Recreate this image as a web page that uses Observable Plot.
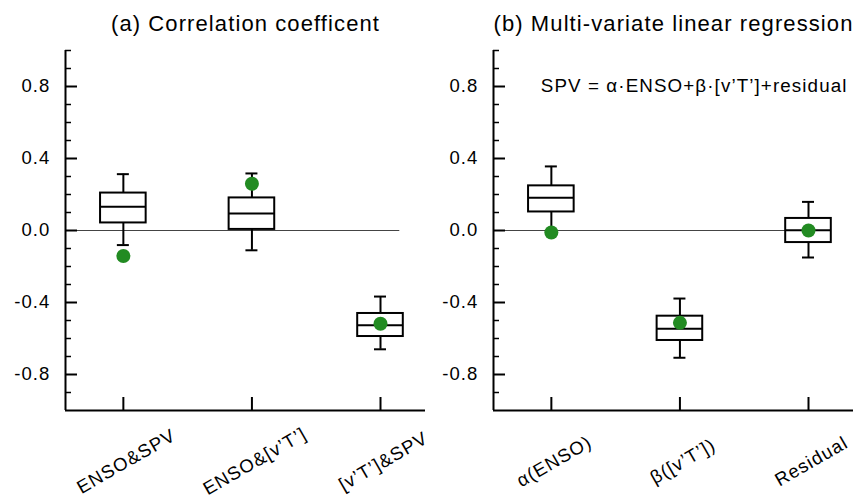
<!DOCTYPE html>
<html><head><meta charset="utf-8">
<script src="https://cdn.jsdelivr.net/npm/d3@7"></script>
<script src="https://cdn.jsdelivr.net/npm/@observablehq/plot@0.6"></script>
<style>
body{margin:0;background:#fff;}
#chart{display:flex;width:860px;height:500px;}
#chart svg{display:block;flex:none;}
</style></head><body><div id="chart"></div>
<script>
// ---- Panel (a): correlation coefficients ----
const titleA = "(a) Correlation coefficent";
const catsA = ["ENSO&SPV", "ENSO&[v’T’]", "[v’T’]&SPV"];
const loA  = [-0.081, -0.110, -0.660];
const q1A  = [ 0.042,  0.006, -0.589];
const medA = [ 0.132,  0.095, -0.527];
const q3A  = [ 0.208,  0.181, -0.461];
const hiA  = [ 0.313,  0.317, -0.367];
const obsA = [-0.142,  0.260, -0.518];

// ---- Panel (b): multi-variate linear regression ----
const titleB = "(b) Multi-variate linear regression";
const noteB = "SPV = α·ENSO+β·[v’T’]+residual";
const catsB = ["α(ENSO)", "β([v’T’])", "Residual"];
const loB  = [-0.005, -0.707, -0.150];
const q1B  = [ 0.103, -0.611, -0.067];
const medB = [ 0.182, -0.546,  0.002];
const q3B  = [ 0.248, -0.476,  0.067];
const hiB  = [ 0.356, -0.378,  0.159];
const obsB = [-0.011, -0.513,  0.000];

// ---- axis ticks ----
const majorTicks = [-0.8, -0.4, 0.0, 0.4, 0.8];
const minorTicks = [-0.9, -0.7, -0.6, -0.5, -0.3, -0.2, -0.1, 0.1, 0.2, 0.3, 0.5, 0.6, 0.7, 0.9, 1.0];

function panel({title, cats, lo, q1, med, q3, hi, obs, marginLeft, marginRight, note}) {
  const rows = cats.map((c, k) => ({i: k + 1, c, lo: lo[k], q1: q1[k], med: med[k], q3: q3[k], hi: hi[k], obs: obs[k]}));
  const W = 430, H = 500, mT = 50, mB = 90;
  const xDom = [0.55, 3.35];
  const kx = (W - marginLeft - marginRight) / (xDom[1] - xDom[0]);
  const ky = (H - mT - mB) / 2;
  const bw = 22.8 / kx, cw = 6 / kx;
  const marks = [
    Plot.ruleY([0], {x1: xDom[0], x2: 3.15, stroke: "#444", strokeWidth: 1.2}),
    Plot.ruleX(rows, {x: "i", y1: "lo", y2: "q1", stroke: "black", strokeWidth: 2}),
    Plot.ruleX(rows, {x: "i", y1: "q3", y2: "hi", stroke: "black", strokeWidth: 2}),
    Plot.ruleY(rows, {y: "lo", x1: d => d.i - cw, x2: d => d.i + cw, stroke: "black", strokeWidth: 2}),
    Plot.ruleY(rows, {y: "hi", x1: d => d.i - cw, x2: d => d.i + cw, stroke: "black", strokeWidth: 2}),
    Plot.rect(rows, {x1: d => d.i - bw, x2: d => d.i + bw, y1: "q1", y2: "q3", fill: "white", stroke: "black", strokeWidth: 2}),
    Plot.ruleY(rows, {y: "med", x1: d => d.i - bw, x2: d => d.i + bw, stroke: "black", strokeWidth: 2}),
    Plot.dot(rows, {x: "i", y: "obs", r: 7, fill: "#228B22", stroke: "none"}),
    // axes
    Plot.ruleX([xDom[0]], {y1: -1, y2: 1, stroke: "black", strokeWidth: 2}),
    Plot.ruleY([-1], {x1: xDom[0], x2: xDom[1], stroke: "black", strokeWidth: 2}),
    Plot.ruleY(majorTicks, {x1: xDom[0], x2: xDom[0] + 12 / kx, stroke: "black", strokeWidth: 2}),
    Plot.ruleY(minorTicks, {x1: xDom[0], x2: xDom[0] + 6 / kx, stroke: "black", strokeWidth: 1.5}),
    Plot.ruleX(rows, {x: "i", y1: () => -1, y2: () => -1 + 13 / ky, stroke: "black", strokeWidth: 2}),
    Plot.text(majorTicks, {y: d => d, frameAnchor: "left", text: d => d.toFixed(1), textAnchor: "end", dx: -15, fontSize: 18.5, fill: "black"}),
    Plot.text(rows, {x: "i", y: () => -1, text: "c", rotate: -30, textAnchor: "middle", lineAnchor: "middle", dx: 3, dy: 51, fontSize: 18.5, fill: "black"}),
    Plot.text([title], {frameAnchor: "top", dy: -20, lineAnchor: "bottom", fontSize: 22, fill: "black"})
  ];
  if (note) marks.push(Plot.text([note], {frameAnchor: "top-right", dx: -6, dy: 41, textAnchor: "end", lineAnchor: "bottom", fontSize: 18.8, fill: "black"}));
  return Plot.plot({
    width: W, height: H,
    marginLeft, marginRight, marginTop: mT, marginBottom: mB,
    x: {domain: xDom, axis: null},
    y: {domain: [-1, 1], axis: null},
    style: {fontFamily: "'Liberation Sans', Arial, Helvetica, sans-serif", letterSpacing: "1.1px", background: "white", color: "black", overflow: "visible"},
    marks
  });
}

const chart = document.getElementById("chart");
chart.append(panel({title: titleA, cats: catsA, lo: loA, q1: q1A, med: medA, q3: q3A, hi: hiA, obs: obsA, marginLeft: 65, marginRight: 5}));
chart.append(panel({title: titleB, cats: catsB, lo: loB, q1: q1B, med: medB, q3: q3B, hi: hiB, obs: obsB, marginLeft: 63, marginRight: 7, note: noteB}));
</script></body></html>
